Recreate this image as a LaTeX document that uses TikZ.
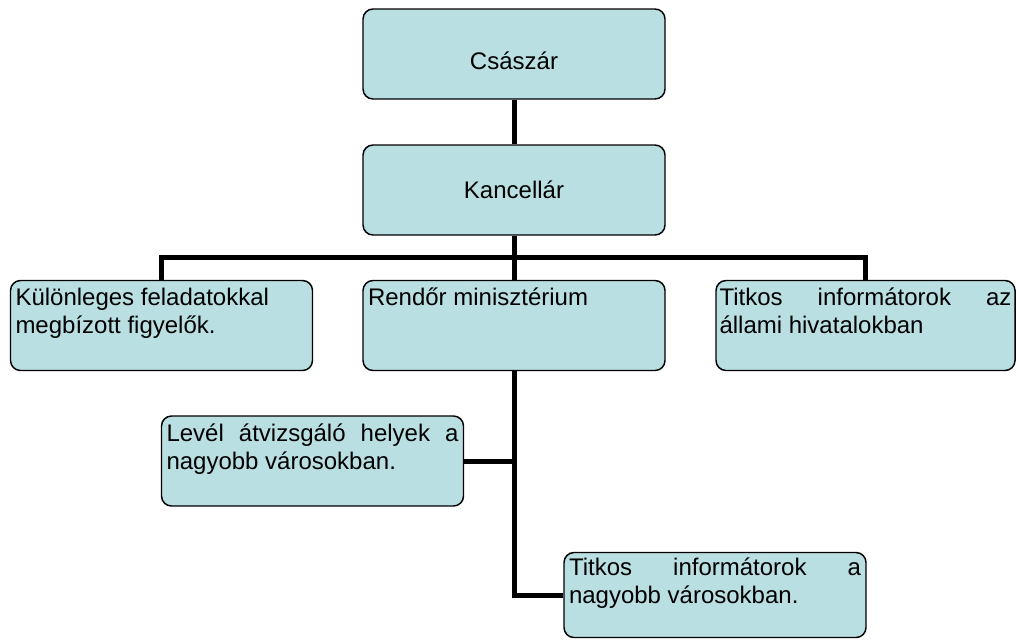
\documentclass[tikz,border=0pt]{standalone}
\usepackage{fontspec}
\setmainfont{Liberation Sans}
\definecolor{boxfill}{RGB}{185,223,227}
\newcommand{\toptext}[1]{\parbox[c][56pt][t]{219pt}{\raggedright #1}}
\begin{document}
\begin{tikzpicture}[x=0.75pt, y=-0.75pt,
    unit/.style={draw=black, line width=1.1pt, fill=boxfill, rounded corners=7.5pt,
      minimum width=226.5pt, minimum height=67.5pt, inner sep=0pt,
      font=\fontsize{18}{21}\selectfont},
    link/.style={line width=3.75pt}]
  \useasboundingbox (0,0) rectangle (1016,639);

  \node[unit] (csaszar) at (514, 54) {\raisebox{-5pt}[\height][\depth]{Császár}};
  \node[unit] (kancellar) at (514, 190) {Kancellár};

  \node[unit] (kulonleges) at (161.5, 325.5) {\toptext{Különleges feladatokkal\\ megbízott figyelők.}};
  \node[unit] (rendor) at (514, 325.5) {\toptext{Rendőr minisztérium}};
  \node[unit, minimum width=224.25pt] (allami) at (865.5, 325.5)
    {\toptext{Titkos \hfill informátorok \hfill az\\ állami hivatalokban}};

  \node[unit] (level) at (312.5, 461) {\toptext{Levél \hfill átvizsgáló \hfill helyek \hfill a\\ nagyobb városokban.}};
  \node[unit, minimum height=63.75pt] (titkos) at (715, 595)
    {\toptext{Titkos \hfill informátorok \hfill a\\ nagyobb városokban.}};

  \coordinate (bus) at (514, 257.5);
  \draw[link] (csaszar) -- (kancellar);
  \draw[link] (kancellar) -- (rendor);
  \draw[link] (kulonleges.north) |- (bus) -| (allami.north);
  \draw[link] (level.east) -| (rendor.south);
  \draw[link] (rendor.south) |- (titkos.west);
\end{tikzpicture}
\end{document}
